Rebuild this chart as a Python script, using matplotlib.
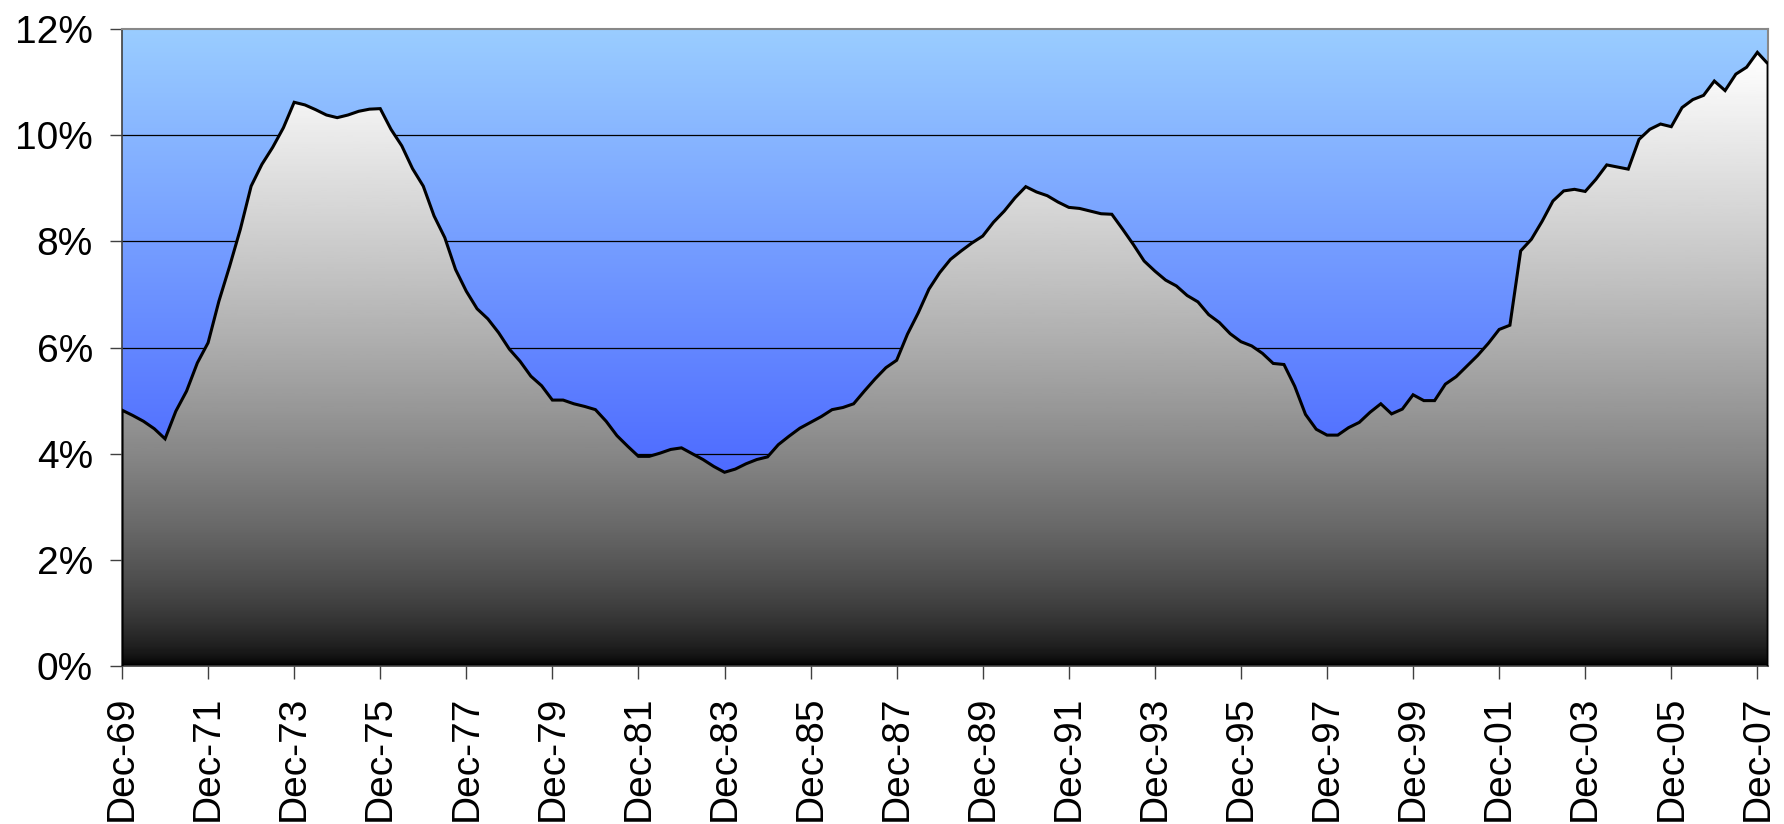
import numpy as np
import matplotlib.pyplot as plt
from matplotlib.colors import LinearSegmentedColormap

# Quarterly rate (%), Dec-69 through Mar-08
rates = [
    4.82, 4.72, 4.61, 4.47, 4.28, 4.80, 5.18, 5.71, 6.09, 6.87,
    7.53, 8.23, 9.04, 9.45, 9.77, 10.14, 10.62, 10.57, 10.48, 10.38,
    10.33, 10.38, 10.45, 10.49, 10.50, 10.11, 9.80, 9.37, 9.04, 8.48,
    8.07, 7.47, 7.06, 6.73, 6.54, 6.28, 5.97, 5.74, 5.46, 5.28,
    5.01, 5.01, 4.94, 4.89, 4.83, 4.61, 4.34, 4.14, 3.95, 3.95,
    4.01, 4.08, 4.11, 4.00, 3.89, 3.76, 3.65, 3.71, 3.81, 3.89,
    3.94, 4.17, 4.33, 4.48, 4.59, 4.70, 4.83, 4.87, 4.94, 5.18,
    5.41, 5.62, 5.76, 6.25, 6.65, 7.10, 7.41, 7.66, 7.82, 7.97,
    8.10, 8.36, 8.57, 8.82, 9.03, 8.93, 8.86, 8.74, 8.64, 8.62,
    8.57, 8.52, 8.51, 8.23, 7.94, 7.63, 7.44, 7.27, 7.16, 6.98,
    6.86, 6.62, 6.47, 6.26, 6.11, 6.03, 5.89, 5.70, 5.68, 5.27,
    4.74, 4.46, 4.35, 4.35, 4.49, 4.59, 4.78, 4.94, 4.75, 4.84,
    5.11, 5.00, 5.00, 5.31, 5.45, 5.65, 5.85, 6.08, 6.34, 6.42,
    7.82, 8.04, 8.38, 8.76, 8.95, 8.98, 8.94, 9.17, 9.44, 9.40,
    9.36, 9.92, 10.11, 10.21, 10.16, 10.52, 10.67, 10.75, 11.02, 10.84,
    11.15, 11.28, 11.56, 11.34,
]
tick_labels = ["Dec-69", "Dec-71", "Dec-73", "Dec-75", "Dec-77", "Dec-79",
               "Dec-81", "Dec-83", "Dec-85", "Dec-87", "Dec-89", "Dec-91",
               "Dec-93", "Dec-95", "Dec-97", "Dec-99", "Dec-01", "Dec-03",
               "Dec-05", "Dec-07"]
y_ticks = [0, 2, 4, 6, 8, 10, 12]

plt.rcParams['font.family'] = ['Liberation Sans', 'DejaVu Sans']

y = np.array(rates)
x = np.arange(len(y))
ymax = 12

fig = plt.figure(figsize=(17.84, 8.24), dpi=100)
ax = fig.add_axes([0.0684, 0.1917, 0.9227, 0.7731])
ax.set_xlim(0, len(y) - 1)
ax.set_ylim(0, ymax)

# blue backdrop, light at the top
bg = LinearSegmentedColormap.from_list('bg', ['#2c40ff', '#9acdff'])
grad = np.linspace(0, 1, 256).reshape(-1, 1)
ax.imshow(grad, cmap=bg, origin='lower', aspect='auto',
          extent=[0, len(y) - 1, 0, ymax], zorder=0)

for t in y_ticks[1:-1]:
    ax.axhline(t, color='black', lw=0.9, zorder=1)

# grey-to-white fill under the curve
fill = ax.fill_between(x, 0, y, facecolor='none', edgecolor='none', zorder=2)
shade = np.linspace(0, 1, 256).reshape(-1, 1) ** 0.6
img = ax.imshow(shade, cmap='gray', origin='lower', aspect='auto', vmin=0, vmax=1,
                extent=[0, len(y) - 1, 0, y.max()], zorder=2)
img.set_clip_path(fill.get_paths()[0], transform=ax.transData)

outline_x = np.concatenate([[0], x, [x[-1]]])
outline_y = np.concatenate([[0], y, [0]])
ax.plot(outline_x, outline_y, color='black', lw=2.2, zorder=3, solid_joinstyle='miter')

ax.set_yticks(y_ticks)
ax.set_yticklabels([f"{t}%" for t in y_ticks])
ax.set_xticks(np.arange(0, len(y), 8))
ax.set_xticklabels(tick_labels, rotation=90)
ax.tick_params(axis='both', labelsize=28, length=9, width=1.0, color='#404040', pad=12)

for side in ['top', 'right']:
    ax.spines[side].set_color('#888888')
    ax.spines[side].set_linewidth(1.5)
for side in ['left', 'bottom']:
    ax.spines[side].set_color('#404040')
    ax.spines[side].set_linewidth(1.2)
ax.spines['top'].set_zorder(4)

fig.savefig('out.png', dpi=100)
